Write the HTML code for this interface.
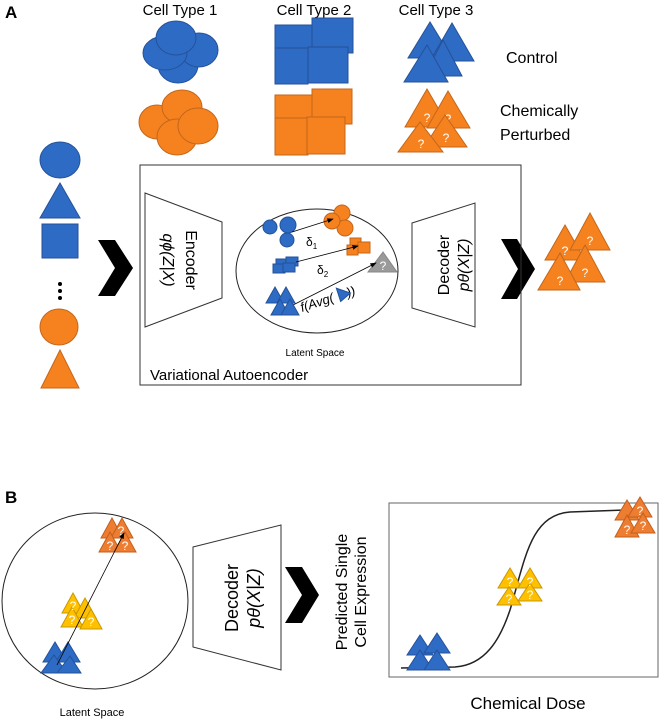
<!DOCTYPE html>
<html><head><meta charset="utf-8"><style>
html,body{margin:0;padding:0;background:#fff}
svg{display:block}
text{font-family:"Liberation Sans","DejaVu Sans",sans-serif}
.b{fill:#2E6BC4;stroke:#24529a;stroke-width:1}
.o{fill:#F5821F;stroke:#c4661a;stroke-width:1}
.o2{fill:#ED7D31;stroke:#c45f1c;stroke-width:1}
.y{fill:#FFC000;stroke:#c99800;stroke-width:1}
.q{fill:#fff;font-size:12px;text-anchor:middle}
</style></head><body>
<svg width="660" height="720" viewBox="0 0 660 720" xmlns="http://www.w3.org/2000/svg">
<defs><marker id="ar" markerWidth="8" markerHeight="8" refX="7" refY="4" orient="auto"><path d="M0,1 L8,4 L0,7 z" fill="#000"/></marker></defs>
<text x="5" y="18" font-size="17" font-weight="bold">A</text>
<text x="180" y="15" font-size="15" text-anchor="middle">Cell Type 1</text>
<text x="314" y="15" font-size="15" text-anchor="middle">Cell Type 2</text>
<text x="436" y="15" font-size="15" text-anchor="middle">Cell Type 3</text>
<text x="506" y="63" font-size="16">Control</text>
<text x="500" y="116" font-size="16">Chemically</text>
<text x="500" y="140" font-size="16">Perturbed</text>
<ellipse class="b" cx="178" cy="65" rx="20" ry="18"/>
<ellipse class="b" cx="199" cy="50" rx="19" ry="17"/>
<ellipse class="b" cx="165" cy="53" rx="22" ry="17"/>
<ellipse class="b" cx="176" cy="38" rx="20" ry="17"/>
<ellipse class="o" cx="157" cy="122" rx="18" ry="17"/>
<ellipse class="o" cx="182" cy="107" rx="20" ry="17"/>
<ellipse class="o" cx="177" cy="137" rx="20" ry="18"/>
<ellipse class="o" cx="198" cy="126" rx="20" ry="18"/>
<rect class="b" x="275" y="25" width="38" height="37"/>
<rect class="b" x="312" y="18" width="41" height="35"/>
<rect class="b" x="275" y="48" width="33" height="36"/>
<rect class="b" x="308" y="47" width="40" height="36"/>
<rect class="o" x="275" y="95" width="38" height="35"/>
<rect class="o" x="312" y="89" width="40" height="35"/>
<rect class="o" x="275" y="118" width="33" height="37"/>
<rect class="o" x="307" y="117" width="38" height="37"/>
<polygon class="b" points="430,22 408,58 452,58"/>
<polygon class="b" points="452,23 430,61 474,61"/>
<polygon class="b" points="443,40 424,76 462,76"/>
<polygon class="b" points="427,45 404,82 448,82"/>
<polygon class="o" points="427,89 405,127 449,127"/><text class="q" x="427" y="122">?</text>
<polygon class="o" points="448,91 427,128 470,128"/><text class="q" x="448" y="123">?</text>
<polygon class="o" points="445,115 424,147 467,147"/><text class="q" x="446" y="142">?</text>
<polygon class="o" points="420,122 398,152 443,152"/><text class="q" x="421" y="148">?</text>
<ellipse class="b" cx="60" cy="160" rx="20" ry="18"/>
<polygon class="b" points="60,183 40,218 80,218"/>
<rect class="b" x="42" y="224" width="36" height="34"/>
<circle cx="60" cy="284" r="2" fill="#000"/><circle cx="60" cy="291" r="2" fill="#000"/><circle cx="60" cy="298" r="2" fill="#000"/>
<ellipse class="o" cx="59" cy="327" rx="19" ry="18"/>
<polygon class="o" points="60,350 41,388 79,388"/>
<polygon points="98,240 115,240 133,268 115,296 98,296 115,268" fill="#000"/>
<polygon points="501,239 517,239 535,269 517,299 501,299 518,269" fill="#000"/>
<rect x="140" y="165" width="381" height="220" fill="none" stroke="#333" stroke-width="1"/>
<polygon points="145,193 222,222 222,298 145,327" fill="#fff" stroke="#333"/>
<text transform="translate(186,260) rotate(90)" font-size="16" text-anchor="middle">Encoder</text>
<text transform="translate(163,260) rotate(90)" font-size="16" text-anchor="middle" font-family="Liberation Serif,serif" font-style="italic">qϕ(Z|X)</text>
<polygon points="412,223 475,203 475,327 412,308" fill="#fff" stroke="#333"/>
<text transform="translate(449,265) rotate(-90)" font-size="16" text-anchor="middle">Decoder</text>
<text transform="translate(469,265) rotate(-90)" font-size="16" text-anchor="middle" font-family="Liberation Serif,serif" font-style="italic">pθ(X|Z)</text>
<ellipse cx="317" cy="271" rx="81" ry="62" fill="#fff" stroke="#222"/>
<text x="315" y="356" font-size="10" text-anchor="middle">Latent Space</text>
<text x="150" y="380" font-size="15">Variational Autoencoder</text>
<circle class="b" cx="270" cy="227" r="7"/><circle class="b" cx="287" cy="240" r="7"/><circle class="b" cx="288" cy="225" r="8"/>
<circle class="o" cx="342" cy="213" r="8"/><circle class="o" cx="345" cy="228" r="8"/><circle class="o" cx="332" cy="221" r="8"/>
<line x1="292" y1="232" x2="333" y2="219" stroke="#000" stroke-width="0.8" marker-end="url(#ar)"/>
<text x="306" y="246" font-size="12">δ<tspan font-size="8" dy="3">1</tspan></text>
<rect class="b" x="276" y="259" width="11" height="9"/><rect class="b" x="286" y="257" width="12" height="9"/><rect class="b" x="273" y="264" width="12" height="9"/><rect class="b" x="283" y="263" width="12" height="9"/>
<rect class="o" x="350" y="238" width="11" height="10"/><rect class="o" x="358" y="242" width="12" height="11"/><rect class="o" x="347" y="245" width="11" height="10"/>
<line x1="296" y1="262" x2="358" y2="246" stroke="#000" stroke-width="0.8" marker-end="url(#ar)"/>
<text x="317" y="274" font-size="12">δ<tspan font-size="8" dy="3">2</tspan></text>
<polygon points="383,252 368,272 397,272" fill="#9a9a9a" stroke="#888"/><text class="q" x="383" y="270" font-size="11">?</text>
<line x1="293" y1="305" x2="376" y2="263" stroke="#000" stroke-width="0.8" marker-end="url(#ar)"/>
<polygon class="b" points="275,287 266,303 284,303"/><polygon class="b" points="286,287 277,303 295,303"/>
<polygon class="b" points="280,299 271,315 289,315"/><polygon class="b" points="290,299 281,315 299,315"/>
<g transform="translate(302,312) rotate(-18)"><text font-size="13" font-family="Liberation Serif,serif" font-style="italic">f(Avg(<tspan dx="14">))</tspan></text><polygon class="b" points="40,-12 40,2 52,-3"/></g>
<polygon class="o" points="565,225 545,260 585,260"/><text class="q" x="565" y="255">?</text>
<polygon class="o" points="590,213 570,250 610,250"/><text class="q" x="590" y="245">?</text>
<polygon class="o" points="585,245 565,282 605,282"/><text class="q" x="585" y="277">?</text>
<polygon class="o" points="560,253 538,290 580,290"/><text class="q" x="560" y="285">?</text>
<text x="5" y="503" font-size="17" font-weight="bold">B</text>
<ellipse cx="95" cy="601" rx="93" ry="88" fill="#fff" stroke="#222"/>
<text x="92" y="716" font-size="11" text-anchor="middle">Latent Space</text>
<polygon class="o2" points="112,518 101,538 123,538"/><polygon class="o2" points="122,518 111,538 133,538"/>
<polygon class="o2" points="110,532 99,552 121,552"/><polygon class="o2" points="125,532 114,552 136,552"/>
<text class="q" x="121" y="535" font-size="10">?</text><text class="q" x="110" y="550" font-size="10">?</text><text class="q" x="125" y="550" font-size="10">?</text>
<polygon class="y" points="73,593 62,613 84,613"/><polygon class="y" points="85,598 74,618 96,618"/>
<polygon class="y" points="72,607 61,627 83,627"/><polygon class="y" points="91,609 80,629 102,629"/>
<text class="q" x="73" y="610" font-size="10">?</text><text class="q" x="72" y="624" font-size="10">?</text><text class="q" x="91" y="626" font-size="10">?</text>
<polygon class="b" points="55,642 43,662 67,662"/><polygon class="b" points="68,642 56,662 80,662"/>
<polygon class="b" points="54,655 41,673 67,673"/><polygon class="b" points="70,656 57,673 81,673"/>
<line x1="57" y1="665" x2="124" y2="533" stroke="#000" stroke-width="0.8" marker-end="url(#ar)"/>
<polygon points="193,547 281,525 281,670 193,647" fill="#fff" stroke="#333"/>
<text transform="translate(238,598) rotate(-90)" font-size="18" text-anchor="middle">Decoder</text>
<text transform="translate(260,598) rotate(-90)" font-size="18" text-anchor="middle" font-family="Liberation Serif,serif" font-style="italic">pθ(X|Z)</text>
<polygon points="285,567 302,567 319,595 302,623 285,623 302,595" fill="#000"/>
<text transform="translate(347,592) rotate(-90)" font-size="16" text-anchor="middle">Predicted Single</text>
<text transform="translate(366,592) rotate(-90)" font-size="16" text-anchor="middle">Cell Expression</text>
<rect x="389" y="503" width="269" height="174" fill="#fff" stroke="#666"/>
<path d="M401,668 L455,667 C485,665 500,640 510,610 C525,560 530,515 570,512 L625,510" fill="none" stroke="#222" stroke-width="1.5"/>
<polygon class="b" points="420,635 407,655 433,655"/><polygon class="b" points="437,633 424,653 450,653"/>
<polygon class="b" points="420,650 407,670 433,670"/><polygon class="b" points="437,650 424,670 450,670"/>
<polygon class="y" points="510,568 498,588 522,588"/><polygon class="y" points="530,568 518,588 542,588"/>
<polygon class="y" points="509,587 497,605 521,605"/><polygon class="y" points="530,583 518,601 542,601"/>
<text class="q" x="510" y="586" font-size="10">?</text><text class="q" x="530" y="586" font-size="10">?</text><text class="q" x="509" y="603" font-size="10">?</text><text class="q" x="530" y="599" font-size="10">?</text>
<polygon class="o2" points="627,500 615,520 639,520"/><polygon class="o2" points="640,497 628,517 652,517"/>
<polygon class="o2" points="627,515 615,537 639,537"/><polygon class="o2" points="643,513 631,533 655,533"/>
<text class="q" x="640" y="515" font-size="10">?</text><text class="q" x="627" y="534" font-size="10">?</text><text class="q" x="643" y="530" font-size="10">?</text>
<text x="528" y="709" font-size="17" text-anchor="middle">Chemical Dose</text>
</svg>
</body></html>
